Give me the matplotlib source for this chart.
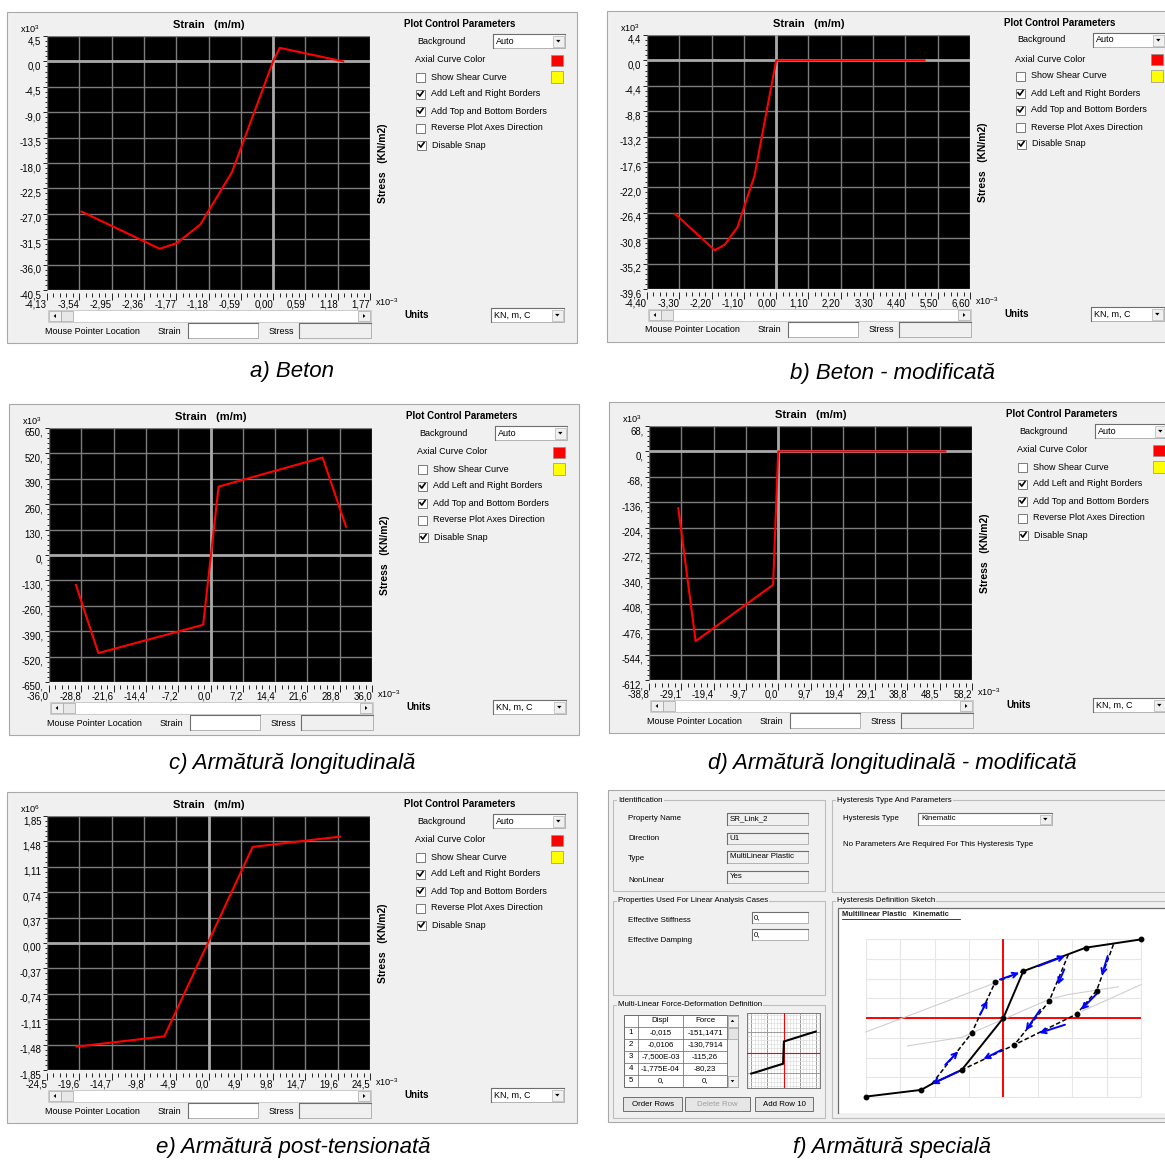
import numpy as np
import matplotlib
matplotlib.use("Agg")
import matplotlib.pyplot as plt
from matplotlib.patches import Rectangle, Polygon
from matplotlib.ticker import AutoMinorLocator, MultipleLocator
from matplotlib import font_manager as fm

# ---------------------------------------------------------------- data
# a) concrete (stress x10^3 KN/m2, strain x10^-3)
A_STRAIN = [-3.50, -2.07, -1.76, -1.33, -0.75, 0.00, 0.12, 1.28]
A_STRESS = [-26.6, -33.2, -32.2, -28.9, -19.6, 0.0, 2.4, 0.0]
A_XTICKS = [-4.13, -3.54, -2.95, -2.36, -1.77, -1.18, -0.59, 0.00, 0.59, 1.18, 1.77]
A_YTICKS = [4.5, 0.0, -4.5, -9.0, -13.5, -18.0, -22.5, -27.0, -31.5, -36.0, -40.5]

# b) modified concrete
B_STRAIN = [-3.44, -2.09, -1.75, -1.32, -0.74, 0.00, 5.05]
B_STRESS = [-26.6, -32.9, -31.9, -28.9, -20.0, 0.0, 0.0]
B_XTICKS = [-4.40, -3.30, -2.20, -1.10, 0.00, 1.10, 2.20, 3.30, 4.40, 5.50, 6.60]
B_YTICKS = [4.4, 0.0, -4.4, -8.8, -13.2, -17.6, -22.0, -26.4, -30.8, -35.2, -39.6]

# c) longitudinal reinforcement
C_STRAIN = [-30.0, -25.0, -1.63, 1.80, 25.0, 30.2]
C_STRESS = [-153, -502, -357, 350, 499, 145]
C_XTICKS = [-36.0, -28.8, -21.6, -14.4, -7.2, 0.0, 7.2, 14.4, 21.6, 28.8, 36.0]
C_YTICKS = [650, 520, 390, 260, 130, 0, -130, -260, -390, -520, -650]

# d) modified longitudinal reinforcement
D_STRAIN = [-30.0, -24.8, -1.53, 0.0, 50.2]
D_STRESS = [-152, -508, -357, 0, 0]
D_XTICKS = [-38.8, -29.1, -19.4, -9.7, 0.0, 9.7, 19.4, 29.1, 38.8, 48.5, 58.2]
D_YTICKS = [68, 0, -68, -136, -204, -272, -340, -408, -476, -544, -612]

# e) post-tensioned reinforcement (stress x10^6)
E_STRAIN = [-20.0, -6.7, 6.7, 20.0]
E_STRESS = [-1.51, -1.36, 1.40, 1.55]
E_XTICKS = [-24.5, -19.6, -14.7, -9.8, -4.9, 0.0, 4.9, 9.8, 14.7, 19.6, 24.5]
E_YTICKS = [1.85, 1.48, 1.11, 0.74, 0.37, 0.00, -0.37, -0.74, -1.11, -1.48, -1.85]

CAPTIONS = ["a) Beton", "b) Beton - modificată", "c) Armătură longitudinală",
            "d) Armătură longitudinală - modificată", "e) Armătură post-tensionată",
            "f) Armătură specială"]

# f) link property: multilinear force-deformation table
F_ROWS = ["1", "2", "3", "4", "5"]
F_DISPL_TXT = ["-0,015", "-0,0106", "-7,500E-03", "-1,775E-04", "0,"]
F_FORCE_TXT = ["-151,1471", "-130,7914", "-115,26", "-80,23", "0,"]
F_DISPL = [-0.015, -0.0106, -0.0075, -1.775e-4, 0.0]
F_FORCE = [-151.1471, -130.7914, -115.26, -80.23, 0.0]

# hysteresis sketch (grid units)
SK_BACK_X = [-4.00, -2.39, -2.08, -1.21, 0.00, 0.58, 2.39, 4.00]
SK_BACK_Y = [-3.98, -3.64, -3.34, -2.63, 0.00, 2.37, 3.56, 3.98]
SK_DASH = [
    ([-2.08, -0.92, -0.24, 0.58], [-3.34, -0.76, 1.81, 2.37]),
    ([1.89, 1.33, 0.32], [3.22, 0.85, -1.36]),
    ([3.20, 2.71, 2.13, 0.32, -1.21], [3.73, 1.39, 0.20, -1.36, -2.63]),
]
SK_NODE_X = [-4.00, -2.39, -1.21, 0.00, 0.58, 2.39, 4.00, -0.92, -0.24, 1.33, 0.32, 2.71, 2.13]
SK_NODE_Y = [-3.98, -3.64, -2.63, 0.00, 2.37, 3.56, 3.98, -0.76, 1.81, 0.85, -1.36, 1.39, 0.20]
SK_ARROWS = [(-0.10, 1.95, 0.46, 2.29), (1.02, 2.63, 1.79, 3.14), (1.77, 2.46, 1.58, 1.69),
             (1.07, 0.42, 0.65, -0.63), (3.03, 3.14, 2.86, 2.15), (2.71, 1.22, 2.26, 0.42),
             (1.79, -0.34, 1.04, -0.76), (-0.05, -1.61, -0.58, -2.08), (-1.31, -2.71, -2.08, -3.34),
             (-1.69, -2.37, -1.31, -1.69), (-0.68, 0.17, -0.46, 0.88)]
SK_GUIDES = [
    ([-4.00, -0.24], [-0.71, 1.78]),
    ([-2.78, -1.21, 1.31, 1.89, 3.34], [-1.41, -0.98, 0.93, 1.19, 1.58]),
    ([2.28, 4.00], [0.34, 1.69]),
]

# ---------------------------------------------------------------- fonts
def _has(name):
    try:
        fm.findfont(fm.FontProperties(family=name), fallback_to_default=False)
        return True
    except Exception:
        return False

NARROW = _has("Liberation Sans Narrow")
UI = "Liberation Sans Narrow" if NARROW else "Liberation Sans"
K = 1.2 if NARROW else 1.0
UI_FS = 6.5 * K
TICK_FS = 6.9 * K
HEAD_FS = 7.0 * K
TITLE_FS = 8.0 * K
F_FS = 5.7 * K
CAP_FS = 19 if NARROW else 16

plt.rcParams["font.family"] = [UI, "DejaVu Sans"]
plt.rcParams["mathtext.fontset"] = "custom"
plt.rcParams["mathtext.rm"] = UI
plt.rcParams["mathtext.it"] = UI

# ---------------------------------------------------------------- canvas
W, H, DPI = 1165, 1162, 100
PX = 72.0 / DPI
BG = "#f0f0f0"

fig = plt.figure(figsize=(W / DPI, H / DPI), dpi=DPI, facecolor="white")
ov = fig.add_axes([0, 0, 1, 1])
ov.set_xlim(0, W)
ov.set_ylim(H, 0)
ov.set_autoscale_on(False)
ov.axis("off")


def frac(x, y, w, h):
    return [x / W, 1 - (y + h) / H, w / W, h / H]


def rect(x, y, w, h, fc="none", ec="none", lw=0.7, z=1):
    ov.add_patch(Rectangle((x, y), w, h, facecolor=fc, edgecolor=ec, linewidth=lw, zorder=z))


def seg(xs, ys, color="black", lw=0.7, z=2, **kw):
    ov.plot(xs, ys, color=color, lw=lw, zorder=z, **kw)


def txt(x, y, s, size=None, ha="left", va="center", weight="normal", color="black", **kw):
    ov.text(x, y, s, fontsize=size or UI_FS, ha=ha, va=va, fontweight=weight,
            color=color, zorder=5, **kw)


def sunken(x, y, w, h, fc="white"):
    rect(x, y, w, h, fc=fc, ec="#a8a8a8", lw=0.6)
    seg([x, x, x + w], [y + h, y, y], color="#6e6e6e", lw=0.8)


def tri(cx, cy, d, s=2.4):
    if d == "down":
        pts = [[cx - s, cy - s / 2], [cx + s, cy - s / 2], [cx, cy + s / 2 + 0.4]]
    elif d == "up":
        pts = [[cx - s, cy + s / 2], [cx + s, cy + s / 2], [cx, cy - s / 2 - 0.4]]
    elif d == "left":
        pts = [[cx + s / 2, cy - s], [cx + s / 2, cy + s], [cx - s / 2 - 0.4, cy]]
    else:
        pts = [[cx - s / 2, cy - s], [cx - s / 2, cy + s], [cx + s / 2 + 0.4, cy]]
    ov.add_patch(Polygon(pts, closed=True, fc="black", ec="none", zorder=4))


def combo(x, y, w, h, s, size=None):
    sunken(x, y, w, h)
    rect(x + w - 12, y + 1.5, 10.5, h - 3, fc=BG, ec="#b4b4b4", lw=0.5, z=3)
    tri(x + w - 6.7, y + h / 2, "down", 2.2)
    txt(x + 3, y + h / 2, s, size)


def checkbox(x, y, checked):
    rect(x, y - 4.5, 9, 9, fc="white", ec="#7a7a7a", lw=0.7, z=3)
    if checked:
        seg([x + 2, x + 3.8, x + 7], [y - 0.2, y + 2.1, y - 2.4], lw=1.2, z=4)


def button(x, y, w, h, s, color="black"):
    rect(x, y, w, h, fc="#e6e6e6", ec="#6f6f6f", lw=0.7, z=2)
    txt(x + w / 2, y + h / 2, s, F_FS, ha="center", color=color)


def fmt(v, dec):
    if dec == 0:
        return "%d," % round(v)
    return ("%.*f" % (dec, v)).replace(".", ",")


# ---------------------------------------------------------------- stress-strain dialogs
def strain_dialog(ox, oy, xs, ys, xt, yt, xdec, ydec, yexp):
    rect(ox, oy, 570, 331, fc=BG, ec="#a8a8a8", lw=0.8, z=0)
    px, py, pw, ph = ox + 40, oy + 24, 323, 254
    ax = fig.add_axes(frac(px, py, pw, ph))
    ax.set_facecolor("black")
    for s in ax.spines.values():
        s.set_visible(False)
    # moving the spine resets the ticks, so do it before styling them
    ax.spines["bottom"].set_position(("outward", 2.5 * PX))
    ax.set_xlim(xt[0], xt[-1])
    ax.set_ylim(yt[-1], yt[0])
    ax.tick_params(axis="x", which="major", direction="out", length=7 * PX, width=0.7,
                   color="#222222", pad=0.3, labelsize=TICK_FS)
    ax.tick_params(axis="x", which="minor", direction="out", length=4 * PX, width=0.7,
                   color="#222222")
    ax.tick_params(axis="y", which="major", direction="out", length=4 * PX, width=0.7,
                   color="#222222", pad=1.2, labelsize=TICK_FS)
    ax.tick_params(axis="y", which="minor", direction="out", length=2.5 * PX, width=0.7,
                   color="#222222")
    ax.set_xticks(xt)
    ax.set_xticklabels([fmt(v, xdec) for v in xt], ha="right", va="top")
    ax.set_yticks(yt)
    ax.set_yticklabels([fmt(v, ydec) for v in yt], va="top")
    ax.xaxis.set_minor_locator(AutoMinorLocator(5))
    ax.yaxis.set_minor_locator(AutoMinorLocator(5))
    ax.set_axisbelow(True)
    ax.grid(True, which="major", color="#7c7c7c", lw=1.0)
    ax.axhline(0, color="#a8a8a8", lw=2.0, zorder=2)
    ax.axvline(0, color="#a8a8a8", lw=2.0, zorder=2)
    ax.plot(xs, ys, color="#ff0000", lw=1.5, zorder=5)

    # titles and exponents
    txt(px + pw / 2, oy + 13, "Strain   (m/m)", TITLE_FS, ha="center", weight="bold")
    txt(ox + 33, oy + 17, r"x10$^{%d}$" % yexp, TICK_FS * 0.95, ha="right")
    txt(px + pw + 5, oy + 290, r"x10$^{-3}$", TICK_FS * 0.95)
    txt(ox + 376, oy + 151, "Stress   (KN/m2)", HEAD_FS * 1.05, ha="center", weight="bold",
        rotation=90)

    # scrollbar
    sx, sy, sw, sh = px + 1, oy + 298, 323, 12
    rect(sx, sy, sw, sh, fc="white", ec="#c4c4c4", lw=0.6)
    rect(sx + 1, sy + 1, 12, sh - 2, fc=BG, ec="#a4a4a4", lw=0.5, z=2)
    tri(sx + 7, sy + sh / 2, "left", 2.0)
    rect(sx + 13, sy + 1, 12, sh - 2, fc="#e8e8e8", ec="#a4a4a4", lw=0.5, z=2)
    rect(sx + sw - 13, sy + 1, 12, sh - 2, fc=BG, ec="#a4a4a4", lw=0.5, z=2)
    tri(sx + sw - 7, sy + sh / 2, "right", 2.0)

    # pointer location row
    txt(ox + 38, oy + 319, "Mouse Pointer Location")
    txt(ox + 151, oy + 319, "Strain")
    sunken(ox + 181, oy + 311, 70, 15)
    txt(ox + 262, oy + 319, "Stress")
    sunken(ox + 292, oy + 311, 72, 15, fc=BG)

    # plot control parameters
    rx = ox + 397
    txt(rx, oy + 12, "Plot Control Parameters", HEAD_FS, weight="bold")
    txt(rx + 13, oy + 29, "Background")
    combo(ox + 486, oy + 22, 72, 14, "Auto")
    txt(rx + 11, oy + 48, "Axial Curve Color")
    rect(ox + 544, oy + 43, 12, 11, fc="#ff0000", ec="#909090", lw=0.5)
    rows = [("Show Shear Curve", False), ("Add Left and Right Borders", True),
            ("Add Top and Bottom Borders", True), ("Reverse Plot Axes Direction", False),
            ("Disable Snap", True)]
    for i, (label, chk) in enumerate(rows):
        yy = oy + 65 + 17 * i
        dx = 1 if i == 4 else 0
        checkbox(ox + 409 + dx, yy, chk)
        txt(ox + 424 + dx, yy, label)
    rect(ox + 544, oy + 59, 12, 12, fc="#ffff00", ec="#909090", lw=0.5)
    txt(rx, oy + 303, "Units", HEAD_FS, weight="bold")
    combo(ox + 484, oy + 296, 73, 14, "KN, m, C")


strain_dialog(7, 12, A_STRAIN, A_STRESS, A_XTICKS, A_YTICKS, 2, 1, 3)
strain_dialog(607, 11, B_STRAIN, B_STRESS, B_XTICKS, B_YTICKS, 2, 1, 3)
strain_dialog(9, 404, C_STRAIN, C_STRESS, C_XTICKS, C_YTICKS, 1, 0, 3)
strain_dialog(609, 402, D_STRAIN, D_STRESS, D_XTICKS, D_YTICKS, 1, 0, 3)
strain_dialog(7, 792, E_STRAIN, E_STRESS, E_XTICKS, E_YTICKS, 1, 2, 6)

# ---------------------------------------------------------------- link property dialog
rect(608, 790, 570, 332, fc=BG, ec="#a8a8a8", lw=0.8, z=0)


def group(x0, y0, x1, y1, title):
    rect(x0, y0, x1 - x0, y1 - y0, ec="#bdbdbd", lw=0.8)
    ov.text(x0 + 5, y0, title, fontsize=F_FS, ha="left", va="center", zorder=5,
            bbox=dict(boxstyle="square,pad=0.15", fc=BG, ec="none"))


group(613, 800, 825, 891, "Identification")
group(613, 901, 825, 995, "Properties Used For Linear Analysis Cases")
group(613, 1005, 825, 1118, "Multi-Linear Force-Deformation Definition")
group(832, 800, 1172, 892, "Hysteresis Type And Parameters")
group(832, 901, 1172, 1118, "Hysteresis Definition Sketch")

ident = [("Property Name", "SR_Link_2", 819, 813), ("Direction", "U1", 838, 832.5),
         ("Type", "MultiLinear Plastic", 859, 851), ("NonLinear", "Yes", 880, 871)]
for label, value, ty, by in ident:
    txt(628, ty, label, F_FS)
    sunken(727, by, 81, 11.5, fc=BG)
    txt(729.5, by + 5.8, value, F_FS)

txt(628, 921, "Effective Stiffness", F_FS)
sunken(752, 912, 56, 11)
txt(754, 917.5, "0,", F_FS)
txt(628, 940, "Effective Damping", F_FS)
sunken(752, 929, 56, 11)
txt(754, 934.5, "0,", F_FS)

txt(843, 819, "Hysteresis Type", F_FS)
combo(918, 813, 134, 12, "Kinematic", F_FS)
txt(843, 845, "No Parameters Are Required For This Hysteresis Type", F_FS)

# table
cols = [624, 638, 683, 727, 738]
rows_y = [1015, 1027, 1039, 1051, 1063, 1075, 1087]
rect(cols[0], rows_y[0], cols[-1] - cols[0], rows_y[-1] - rows_y[0], fc="white",
     ec="#6a6a6a", lw=0.7)
rect(cols[3], rows_y[0], cols[4] - cols[3], rows_y[-1] - rows_y[0], fc=BG, ec="#8a8a8a", lw=0.5)
for cx in cols[1:4]:
    seg([cx, cx], [rows_y[0], rows_y[-1]], color="#7a7a7a", lw=0.6)
for ry in rows_y[1:-1]:
    seg([cols[0], cols[3]], [ry, ry], color="#7a7a7a", lw=0.6)
rect(cols[3] + 0.5, rows_y[0] + 0.5, 10, 11, fc=BG, ec="#a0a0a0", lw=0.5, z=2)
tri(cols[3] + 5.5, rows_y[0] + 6, "up", 1.8)
rect(cols[3] + 0.5, rows_y[1] + 0.5, 10, 11, fc="#e4e4e4", ec="#a0a0a0", lw=0.5, z=2)
rect(cols[3] + 0.5, rows_y[-1] - 11.5, 10, 11, fc=BG, ec="#a0a0a0", lw=0.5, z=2)
tri(cols[3] + 5.5, rows_y[-1] - 6, "down", 1.8)
hy = (rows_y[0] + rows_y[1]) / 2
txt((cols[1] + cols[2]) / 2, hy, "Displ", F_FS, ha="center")
txt((cols[2] + cols[3]) / 2, hy, "Force", F_FS, ha="center")
for i, (r, d, f) in enumerate(zip(F_ROWS, F_DISPL_TXT, F_FORCE_TXT)):
    yy = (rows_y[i + 1] + rows_y[i + 2]) / 2
    txt((cols[0] + cols[1]) / 2, yy, r, F_FS, ha="center")
    txt((cols[1] + cols[2]) / 2, yy, d, F_FS, ha="center")
    txt((cols[2] + cols[3]) / 2, yy, f, F_FS, ha="center")

button(623, 1097, 59, 14, "Order Rows")
button(685, 1097, 65, 14, "Delete Row", color="#a0a0a0")
button(755, 1097, 58, 14, "Add Row 10")

# small force-deformation preview (curve mirrored about the origin)
d = np.array(F_DISPL)
f = np.array(F_FORCE)
cur_d = np.concatenate([d, -d[::-1][1:]])
cur_f = np.concatenate([f, -f[::-1][1:]])
mini = fig.add_axes(frac(747, 1013, 73, 75))
mini.set_facecolor("white")
mini.set_xlim(-0.017, 0.017)
mini.set_ylim(-255, 285)
mini.xaxis.set_major_locator(MultipleLocator(0.0075))
mini.xaxis.set_minor_locator(MultipleLocator(0.0015))
mini.yaxis.set_major_locator(MultipleLocator(150))
mini.yaxis.set_minor_locator(MultipleLocator(30))
mini.grid(True, which="minor", color="#dedede", lw=0.5)
mini.grid(True, which="major", color="#9a9a9a", lw=0.7)
mini.tick_params(which="both", length=0, labelbottom=False, labelleft=False)
mini.axhline(0, color="#ff0000", lw=0.8, zorder=3)
mini.axvline(0, color="#ff0000", lw=0.8, zorder=3)
mini.plot(cur_d, cur_f, color="black", lw=1.5, zorder=4)
for s in mini.spines.values():
    s.set_color("#7a7a7a")
    s.set_linewidth(0.7)

# hysteresis sketch
rect(838, 908, 340, 205, fc="white", ec="none")
seg([838, 838, 1170], [1113, 908, 908], color="#6e6e6e", lw=0.9)
txt(842, 914.5, "Multilinear Plastic   Kinematic", F_FS * 0.95, weight="bold", color="#202020")
seg([842, 960], [918.5, 918.5], color="#202020", lw=0.6)

sk = fig.add_axes(frac(839, 909, 326, 204))
sk.set_facecolor("none")
sk.set_xlim(-4.776, 4.697)
sk.set_ylim(-4.81, 5.52)
sk.axis("off")
gx = np.arange(-4, 5)
sk.vlines(gx, -4, 4, color="#e6e6e6", lw=0.8, zorder=1)
sk.hlines(gx, -4, 4, color="#e6e6e6", lw=0.8, zorder=1)
sk.hlines(0, -4, 4, color="#ff0000", lw=1.4, zorder=2)
sk.vlines(0, -4, 4, color="#ff0000", lw=1.4, zorder=2)
for gxs, gys in SK_GUIDES:
    sk.plot(gxs, gys, color="#cfcfcf", lw=0.8, zorder=2)
for dxs, dys in SK_DASH:
    sk.plot(dxs, dys, color="black", lw=1.1, ls=(0, (3, 1.6)), zorder=3)
sk.plot(SK_BACK_X, SK_BACK_Y, color="black", lw=1.4, zorder=4)
for x0, y0, x1, y1 in SK_ARROWS:
    sk.annotate("", xy=(x1, y1), xytext=(x0, y0), zorder=5,
                arrowprops=dict(arrowstyle="->", color="#0000ff", lw=1.4,
                                mutation_scale=9, shrinkA=0, shrinkB=0))
sk.plot(SK_NODE_X, SK_NODE_Y, "o", color="black", ms=3.2, zorder=6)

# ---------------------------------------------------------------- captions
cap_pos = [(292, 372), (892, 374), (292, 763), (892, 764), (293, 1148), (892, 1148)]
for (cx, cy), s in zip(cap_pos, CAPTIONS):
    ov.text(cx, cy, s, fontsize=CAP_FS, style="italic", ha="center", va="center",
            family=[UI, "DejaVu Sans"], zorder=5)

fig.savefig("out.png", dpi=DPI, facecolor="white")
